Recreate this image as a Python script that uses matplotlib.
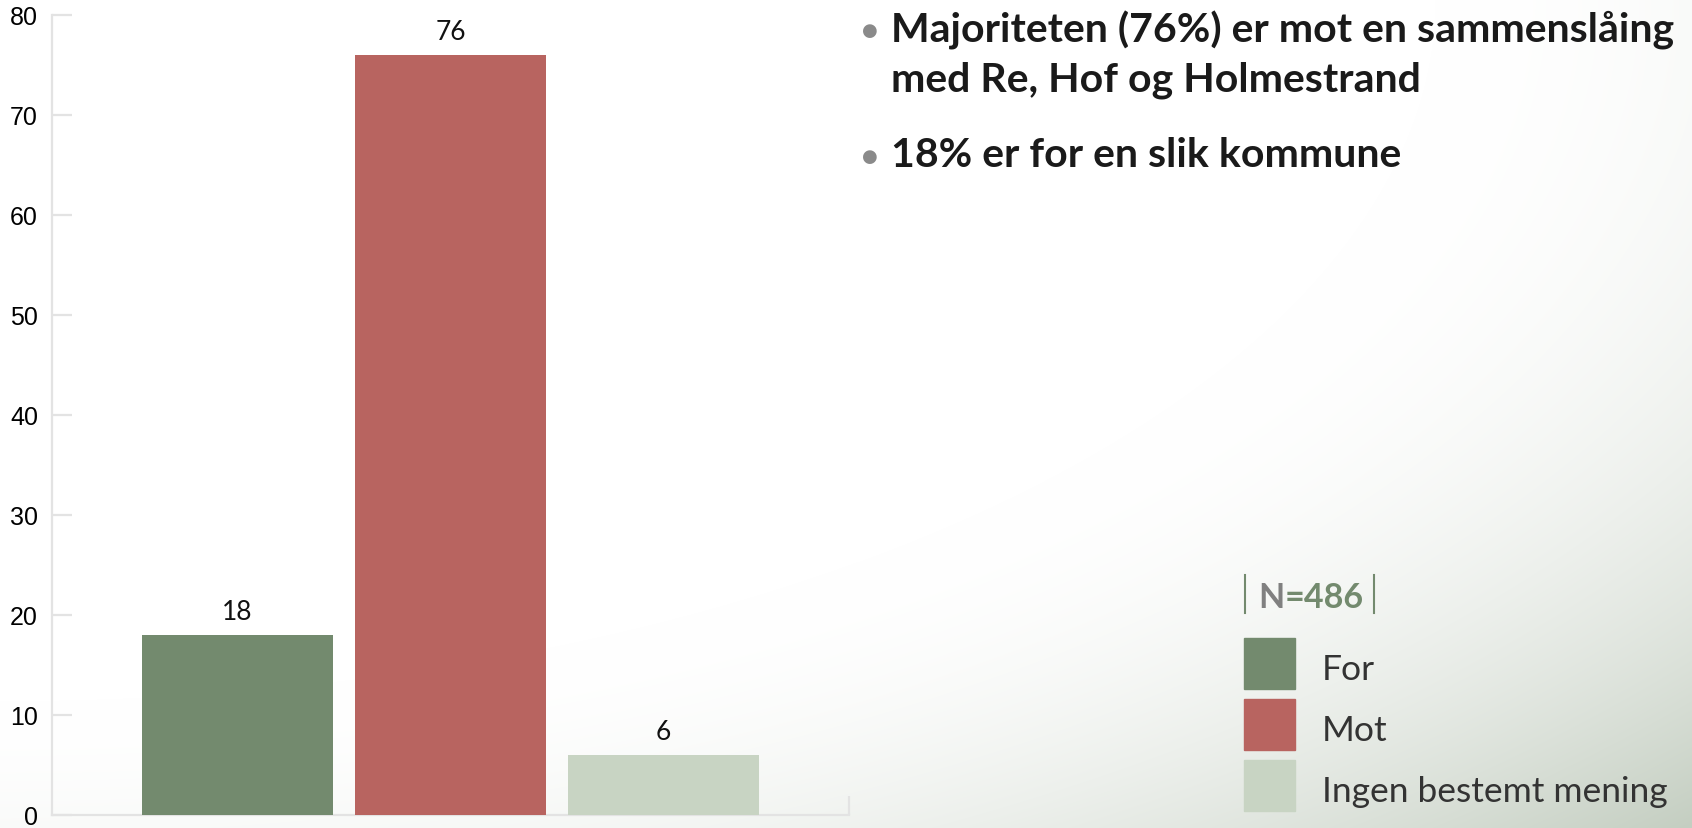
import numpy as np
import matplotlib.pyplot as plt

categories = ["For", "Mot", "Ingen bestemt mening"]
values = [18, 76, 6]
colors = ["#738a6e", "#b86460", "#c8d4c3"]
yticks = [0, 10, 20, 30, 40, 50, 60, 70, 80]
bullet_lines = ["Majoriteten (76%) er mot en sammenslåing",
                "med Re, Hof og Holmestrand",
                "18% er for en slik kommune"]
n_total = 486

W, H = 1692, 829
fig = plt.figure(figsize=(W / 100, H / 100), dpi=100)

# background: white fading to grey-green towards the lower right corner
bg = fig.add_axes([0, 0, 1, 1], zorder=-10)
xx, yy = np.meshgrid(np.linspace(0, 1, W), np.linspace(0, 1, H))
d = np.sqrt(xx ** 2 + yy ** 2) / np.sqrt(2)
t = np.clip((d - 0.6) / 0.4, 0, 1) ** 1.8
corner = np.array([0xc4, 0xce, 0xc1]) / 255
img = 1 - t[..., None] * (1 - corner)
bg.imshow(img, aspect="auto", extent=[0, 1, 0, 1], origin="upper")
bg.axis("off")

def fx(px):
    return px / W

def fy(py):
    return 1 - py / H

# bar chart
ax = fig.add_axes([fx(52), 13 / H, 797 / W, 800 / H])
ax.patch.set_alpha(0)
x = np.arange(len(values))
bars = ax.bar(x, values, width=0.9, color=colors, zorder=3)
ax.bar_label(bars, padding=8, fontsize=19, family="Lato", color="#111111")
ax.set_xlim(-0.87, 2.87)
ax.set_ylim(0, 80)
ax.set_yticks(yticks)
ax.set_xticks([2.87])
ax.set_xticklabels([""])
for s in ["top", "right"]:
    ax.spines[s].set_visible(False)
for s in ["left", "bottom"]:
    ax.spines[s].set_color("#e3e3e3")
    ax.spines[s].set_linewidth(1.6)
ax.tick_params(axis="y", direction="in", length=14.5, width=1.6, color="#e3e3e3",
               pad=10, labelsize=18)
ax.tick_params(axis="x", direction="in", length=14, width=1.6, color="#e3e3e3")
for lab in ax.get_yticklabels():
    lab.set_family("Liberation Sans")

# bullet points
txt_kw = dict(family="Lato", weight="bold", color="#1a1a1a", fontsize=29.5, va="center")
for line, ly in zip(bullet_lines, [30, 80, 156]):
    fig.text(fx(891), fy(ly), line, **txt_kw)
for by in [31, 157]:
    fig.text(fx(870), fy(by), "\u25CF", fontsize=13, color="#8a8a8a",
             ha="center", va="center", family="DejaVu Sans")

# legend
fig.add_artist(plt.Line2D([fx(1245), fx(1245)], [fy(576), fy(614)], color="#738a6e", lw=1.5))
fig.add_artist(plt.Line2D([fx(1374), fx(1374)], [fy(576), fy(614)], color="#738a6e", lw=1.5))
hdr = fig.text(fx(1258), fy(598), "N", family="Lato", weight="bold", fontsize=24.5,
               color="#808080", va="center")
fig.canvas.draw()
bb = hdr.get_window_extent()
fig.text(bb.x1 / W, fy(598), "=%d" % n_total, family="Lato", weight="bold", fontsize=24.5,
         color="#738a6e", va="center")

sq_tops = [639, 700, 761]
for cat, col, top in zip(categories, colors, sq_tops):
    fig.add_artist(plt.Rectangle((fx(1244), fy(top + 51)), 51 / W, 51 / H,
                                 color=col, transform=fig.transFigure))
    fig.text(fx(1322), fy(top + 31), cat, family="Lato", fontsize=25.5,
             color="#333333", va="center")

fig.savefig("out.png", dpi=100)
